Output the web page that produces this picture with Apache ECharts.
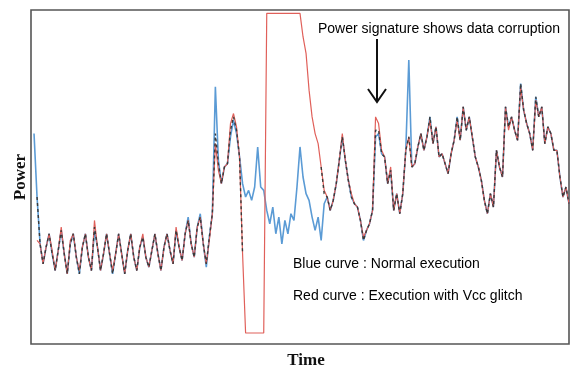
<!DOCTYPE html>
<html>
<head>
<meta charset="utf-8">
<script src="https://cdn.jsdelivr.net/npm/echarts@6/dist/echarts.min.js"></script>
<style>
html,body{margin:0;padding:0;background:#fff;}
#chart{width:570px;height:371px;}
</style>
</head>
<body>
<div id="chart"></div>
<script>
// Time samples (arbitrary units)
const timeIdx = Array.from({length: 179}, (_, i) => i);

// Blue curve : Normal execution
const blueTrace = [null,63,44,30,24,29,33,27,22,28,34,27,21,30,33,26,21,29,33,26,22,34,29,22,27,33,27,21,27,33,27,21,28,33,26,22,29,32,26,23,28,33,27,22,29,33,28,24,34,29,25,33,38,30,26,35,39,30,23,32,39,77,55,48,53,54,62,67,63,56,48,44,46,43,47,59,47,46,40,36,41,33,38,30,37,33,39,37,47,59,50,45,43,38,34,38,31,42,44,40,43,48,55,62,55,49,44,42,41,37,31,34,36,40,62,63,57,56,48,52,40,45,39,45,58,85,53,54,59,63,58,62,68,60,65,56,57,54,51,57,61,68,61,71,64,68,62,56,53,49,43,39,45,41,58,53,50,71,65,68,64,61,78,70,66,63,58,74,68,71,60,65,63,58,58,50,44,47,42];

// Red curve : Execution with Vcc glitch
const redTrace = [null,null,31,30,24,29,33,28,22,28,35,27,21,31,33,26,22,29,33,26,22,37,29,22,27,33,27,22,27,33,27,21,28,33,26,22,29,33,26,23,28,33,27,22,29,33,28,24,35,29,25,33,37,30,26,35,38,30,24,31,39,60,52,48,53,54,66,69,65,56,27,3.3,3.3,3.3,3.3,3.3,3.3,3.3,99,99,99,99,99,99,99,99,99,99,99,99,92,87,76,68,63,60,53,46,44,40,43,48,55,63,55,49,45,42,41,37,32,34,36,40,68,66,58,56,48,53,40,45,39,45,58,62,53,54,59,63,58,62,67,60,65,56,57,54,51,57,61,67,61,71,64,68,62,56,53,49,43,39,45,41,58,53,50,71,64,68,64,61,77,70,66,63,58,73,68,71,60,65,63,58,58,50,44,47,42];

// Dark trace where both executions overlap
const overlapTrace = [null,null,44,30,24,29,33,27,22,28,34,27,21,30,33,26,21,29,33,26,22,35,29,22,27,33,27,21,27,33,27,21,28,33,26,22,29,32,26,23,28,33,27,22,29,33,28,24,34,29,25,33,37,30,26,35,38,30,24,32,39,63,54,48,53,54,64,68,64,56,27,null,null,null,null,null,null,null,null,null,null,null,null,null,null,null,null,null,null,null,null,null,null,null,null,null,53,45,44,40,43,48,55,62,55,49,44,42,41,37,31,34,36,40,64,64,57,56,48,52,40,45,39,45,58,62,53,54,59,63,58,62,68,60,65,56,57,54,51,57,61,68,61,71,64,68,62,56,53,49,43,39,45,41,58,53,50,71,65,68,64,61,78,70,66,63,58,74,68,71,60,65,63,58,58,50,44,47,42];

const annotationTitle = 'Power signature shows data corruption';
const legendBlue = 'Blue curve : Normal execution';
const legendRed = 'Red curve : Execution with Vcc glitch';

const chart = echarts.init(document.getElementById('chart'), null, {renderer: 'canvas'});
chart.setOption({
  backgroundColor: '#ffffff',
  animation: false,
  grid: {left: 31, right: 1, top: 10, bottom: 27, show: true, containLabel: false, outerBoundsMode: 'none',
         borderColor: '#555', borderWidth: 1.6, backgroundColor: 'transparent'},
  xAxis: {
    type: 'category', data: timeIdx, boundaryGap: false,
    axisLine: {show: false}, axisTick: {show: false}, axisLabel: {show: false}, splitLine: {show: false},
    name: 'Time', nameLocation: 'middle', nameGap: 8,
    nameTextStyle: {fontFamily: 'Liberation Serif', fontWeight: 'bold', fontSize: 17, color: '#111', padding: [0, 0, 0, 12]}
  },
  yAxis: {
    type: 'value', min: 0, max: 100,
    axisLine: {show: false}, axisTick: {show: false}, axisLabel: {show: false}, splitLine: {show: false},
    name: 'Power', nameLocation: 'middle', nameGap: 2, nameRotate: 90,
    nameTextStyle: {fontFamily: 'Liberation Serif', fontWeight: 'bold', fontSize: 17, color: '#111'}
  },
  series: [
    {name: 'Normal execution', type: 'line', data: blueTrace, symbol: 'none', z: 2,
     lineStyle: {color: '#5b9bd5', width: 1.6}},
    {name: 'Execution with Vcc glitch', type: 'line', data: redTrace, symbol: 'none', z: 3,
     lineStyle: {color: '#e0605a', width: 1.2}},
    {name: 'Overlap', type: 'line', data: overlapTrace, symbol: 'none', z: 4,
     lineStyle: {color: '#3a3a3a', width: 1.4, type: [3, 3]}}
  ],
  graphic: [
    {type: 'text', left: 318, top: 22, z: 10,
     style: {text: annotationTitle, font: '14px "Liberation Sans"', fill: '#000'}},
    {type: 'line', z: 10, shape: {x1: 377, y1: 39, x2: 377, y2: 101}, style: {stroke: '#111', lineWidth: 2}},
    {type: 'polyline', z: 10, shape: {points: [[368, 89], [377, 102], [386, 89]]}, style: {stroke: '#111', lineWidth: 2, fill: null}},
    {type: 'text', left: 293, top: 257, z: 10,
     style: {text: legendBlue, font: '14px "Liberation Sans"', fill: '#000'}},
    {type: 'text', left: 293, top: 289, z: 10,
     style: {text: legendRed, font: '14px "Liberation Sans"', fill: '#000'}}
  ]
});
</script>
</body>
</html>
